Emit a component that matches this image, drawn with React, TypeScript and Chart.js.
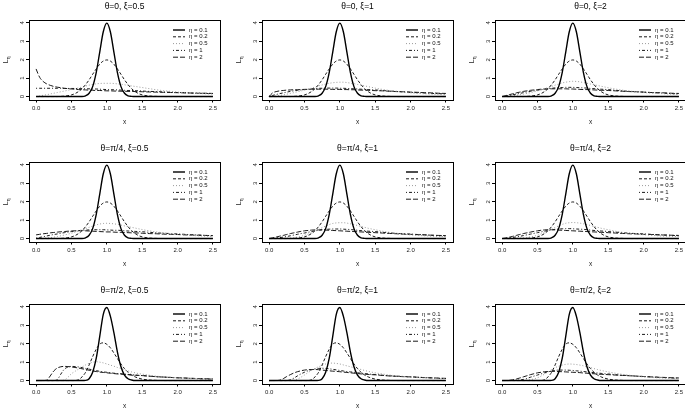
import React, { useEffect, useRef } from 'react';
import { Chart, registerables } from 'chart.js';

Chart.register(...registerables);

// ---------- data ----------
const X = [0, 0.05, 0.1, 0.15, 0.2, 0.25, 0.3, 0.35, 0.4, 0.45, 0.5, 0.55, 0.6, 0.65, 0.7, 0.75, 0.8, 0.85, 0.9, 0.95, 1.0, 1.05, 1.1, 1.15, 1.2, 1.25, 1.3, 1.35, 1.4, 1.45, 1.5, 1.6, 1.7, 1.8, 1.9, 2.0, 2.1, 2.2, 2.3, 2.4, 2.5];
const X_TICKS = [0, 0.5, 1, 1.5, 2, 2.5];
const Y_TICKS = [0, 1, 2, 3, 4];
const ETA_LABELS = ['η = 0.1', 'η = 0.2', 'η = 0.5', 'η = 1', 'η = 2'];
const TITLES = [
  'θ=0, ξ=0.5', 'θ=0, ξ=1', 'θ=0, ξ=2',
  'θ=π/4, ξ=0.5', 'θ=π/4, ξ=1', 'θ=π/4, ξ=2',
  'θ=π/2, ξ=0.5', 'θ=π/2, ξ=1', 'θ=π/2, ξ=2',
];

// η = 0.1 and η = 0.2 (rows θ=0 and θ=π/4)
const ETA01_A = [0, 0, 0, 0, 0, 0, 0, 0, 0, 0, 0, 0, 0, 0, 0.04, 0.18, 0.54, 1.3, 2.42, 3.52, 3.99, 3.52, 2.42, 1.3, 0.54, 0.18, 0.04, 0.01, 0, 0, 0, 0, 0, 0, 0, 0, 0, 0, 0, 0, 0];
const ETA02_A = [0, 0, 0, 0, 0, 0, 0, 0.01, 0.02, 0.05, 0.09, 0.16, 0.27, 0.43, 0.65, 0.91, 1.21, 1.5, 1.76, 1.93, 1.99, 1.93, 1.76, 1.5, 1.21, 0.91, 0.65, 0.43, 0.27, 0.16, 0.09, 0.03, 0.01, 0, 0, 0, 0, 0, 0, 0, 0];
// η = 0.1 and η = 0.2 (row θ=π/2)
const ETA01_B = [0, 0, 0, 0, 0, 0, 0, 0, 0, 0, 0, 0, 0, 0, 0.01, 0.1, 0.45, 1.2, 2.4, 3.6, 3.97, 3.5, 2.6, 1.55, 0.75, 0.3, 0.1, 0.03, 0, 0, 0, 0, 0, 0, 0, 0, 0, 0, 0, 0, 0];
const ETA02_B = [0, 0, 0, 0, 0, 0, 0, 0, 0, 0, 0, 0, 0.05, 0.2, 0.45, 0.85, 1.3, 1.7, 1.98, 2.05, 1.97, 1.78, 1.5, 1.2, 0.9, 0.65, 0.45, 0.3, 0.2, 0.13, 0.08, 0.03, 0.01, 0, 0, 0, 0, 0, 0, 0, 0];

// θ=0, ξ=0.5
const P1_E05 = [0, .03, .07, .1, .14, .18, .22, .26, .3, .34, .38, .42, .47, .52, .57, .62, .66, .69, .71, .72, .72, .72, .71, .69, .67, .64, .61, .58, .55, .52, .49, .43, .37, .32, .28, .24, .21, .19, .17, .15, .14];
const P1_E1 = [.45, .45, .45, .45, .45, .45, .45, .45, .44, .44, .44, .44, .43, .43, .42, .42, .41, .41, .4, .39, .38, .37, .37, .36, .35, .34, .33, .33, .32, .31, .3, .28, .27, .25, .23, .22, .21, .19, .18, .17, .16];
const P1_E2 = [1.5, 1.05, .82, .69, .61, .55, .51, .48, .45, .43, .41, .4, .38, .37, .36, .35, .34, .33, .33, .32, .31, .31, .3, .3, .29, .29, .28, .28, .27, .27, .26, .25, .24, .23, .22, .21, .2, .19, .18, .18, .17];
// θ=0, ξ=1
const P2_E05 = [0, .01, .03, .06, .09, .13, .17, .21, .26, .3, .35, .4, .46, .52, .58, .63, .68, .72, .75, .77, .78, .78, .76, .73, .7, .66, .62, .58, .54, .5, .46, .39, .33, .28, .24, .2, .17, .15, .13, .11, .1];
const P2_E1 = [0, .06, .11, .16, .2, .24, .28, .31, .34, .36, .38, .4, .42, .43, .45, .45, .46, .46, .46, .46, .45, .45, .44, .43, .42, .41, .4, .39, .38, .37, .36, .33, .3, .28, .25, .23, .21, .19, .17, .16, .14];
const P2_E2 = [0, .2, .27, .31, .33, .35, .36, .37, .37, .38, .39, .39, .4, .4, .4, .4, .4, .4, .39, .39, .39, .38, .38, .37, .37, .36, .35, .35, .34, .33, .32, .31, .29, .27, .26, .24, .23, .21, .2, .18, .17];
// θ=0, ξ=2
const P3_E05 = [0, 0, .02, .04, .07, .1, .13, .17, .21, .26, .31, .36, .42, .49, .55, .62, .68, .74, .78, .81, .83, .82, .8, .76, .72, .68, .64, .6, .56, .52, .48, .41, .35, .3, .26, .22, .19, .17, .15, .13, .11];
const P3_E1 = [0, .03, .06, .1, .13, .17, .21, .25, .28, .31, .34, .37, .4, .43, .45, .47, .48, .49, .5, .5, .5, .49, .48, .47, .46, .44, .43, .41, .4, .39, .38, .34, .31, .28, .26, .24, .22, .2, .18, .16, .15];
const P3_E2 = [0, .05, .1, .15, .2, .24, .28, .31, .34, .36, .38, .4, .41, .42, .42, .42, .42, .42, .42, .41, .41, .4, .39, .38, .38, .37, .36, .35, .34, .34, .33, .31, .29, .27, .26, .24, .22, .21, .2, .18, .17];
// θ=π/4, ξ=0.5
const P4_E05 = [0, 0, .01, .03, .05, .08, .11, .15, .19, .24, .29, .35, .41, .47, .54, .61, .68, .74, .79, .82, .83, .82, .8, .77, .73, .69, .65, .61, .57, .53, .49, .42, .36, .31, .27, .23, .2, .17, .15, .13, .12];
const P4_E1 = [.02, .06, .1, .14, .18, .22, .25, .29, .32, .35, .38, .41, .43, .45, .46, .47, .48, .48, .48, .48, .47, .46, .45, .45, .44, .42, .41, .4, .39, .38, .37, .34, .31, .29, .27, .25, .23, .21, .19, .17, .15];
const P4_E2 = [.2, .23, .26, .28, .31, .33, .35, .37, .38, .4, .41, .42, .43, .43, .42, .41, .4, .39, .38, .37, .36, .36, .35, .34, .34, .33, .32, .31, .31, .3, .29, .27, .26, .24, .23, .22, .2, .19, .18, .17, .16];
// θ=π/4, ξ=1
const P5_E05 = [0, 0, 0, 0, .01, .02, .03, .05, .08, .12, .18, .24, .32, .41, .5, .59, .68, .76, .82, .85, .86, .86, .84, .8, .76, .71, .66, .61, .56, .52, .48, .4, .34, .29, .24, .2, .17, .15, .13, .11, .1];
const P5_E1 = [0, .01, .03, .05, .08, .11, .15, .19, .23, .27, .3, .34, .38, .42, .45, .48, .5, .51, .52, .52, .52, .51, .5, .49, .47, .45, .43, .42, .4, .39, .38, .34, .31, .28, .26, .24, .22, .2, .18, .16, .14];
const P5_E2 = [0, .04, .08, .13, .17, .22, .27, .31, .35, .39, .42, .44, .46, .47, .47, .47, .46, .45, .44, .43, .42, .41, .4, .39, .38, .37, .36, .35, .34, .33, .32, .3, .28, .26, .24, .23, .21, .2, .18, .17, .16];
// θ=π/4, ξ=2
const P6_E05 = [0, 0, 0, 0, .01, .02, .04, .06, .09, .13, .18, .25, .33, .42, .51, .6, .69, .77, .83, .86, .87, .86, .84, .8, .76, .71, .66, .61, .56, .52, .48, .4, .34, .29, .25, .21, .18, .15, .13, .12, .1];
const P6_E1 = [0, .01, .03, .06, .09, .12, .16, .2, .24, .28, .32, .36, .4, .44, .47, .5, .52, .53, .54, .54, .53, .52, .51, .5, .48, .46, .44, .43, .41, .4, .38, .35, .32, .29, .27, .25, .23, .21, .19, .17, .15];
const P6_E2 = [0, .03, .07, .12, .17, .22, .27, .31, .35, .39, .42, .45, .47, .48, .48, .47, .46, .45, .44, .43, .42, .41, .4, .39, .38, .37, .36, .35, .34, .33, .32, .3, .28, .26, .25, .23, .22, .2, .19, .18, .17];
// θ=π/2, ξ=0.5
const P7_E05 = [0, 0, 0, 0, 0, 0, 0, 0, .03, .18, .37, .5, .62, .74, .85, .94, 1.0, 1.02, 1.0, .96, .9, .84, .78, .71, .65, .58, .52, .47, .42, .38, .35, .29, .24, .2, .17, .15, .13, .11, .1, .09, .08];
const P7_E1 = [0, 0, 0, 0, 0, 0, .05, .35, .62, .73, .77, .76, .74, .7, .66, .62, .58, .54, .5, .47, .45, .42, .4, .38, .37, .35, .33, .31, .3, .28, .27, .24, .21, .19, .17, .15, .13, .12, .1, .09, .08];
const P7_E2 = [0, 0, 0, .02, .25, .52, .68, .75, .77, .76, .74, .71, .68, .64, .6, .56, .52, .49, .46, .44, .42, .4, .38, .36, .35, .33, .32, .3, .29, .28, .27, .24, .21, .19, .17, .15, .14, .12, .11, .1, .09];
// θ=π/2, ξ=1
const P8_E05 = [0, 0, 0, 0, 0, 0, 0, .02, .08, .18, .3, .43, .55, .66, .75, .83, .9, .94, .95, .93, .9, .85, .8, .75, .7, .65, .6, .55, .5, .46, .42, .36, .3, .26, .22, .18, .16, .14, .12, .11, .1];
const P8_E1 = [0, 0, 0, 0, 0, 0, .04, .13, .25, .36, .45, .53, .59, .63, .66, .67, .66, .64, .61, .58, .55, .52, .49, .47, .45, .42, .4, .38, .36, .34, .33, .29, .26, .24, .22, .2, .18, .16, .14, .12, .11];
const P8_E2 = [0, 0, 0, .02, .1, .22, .32, .41, .48, .53, .57, .59, .6, .6, .59, .57, .55, .53, .51, .5, .48, .46, .44, .42, .4, .38, .36, .35, .33, .32, .31, .28, .25, .23, .21, .2, .18, .16, .15, .13, .12];
// θ=π/2, ξ=2
const P9_E05 = [0, 0, 0, 0, 0, 0, 0, .02, .05, .09, .15, .24, .35, .47, .6, .7, .78, .84, .88, .9, .89, .87, .84, .8, .75, .7, .65, .6, .55, .51, .47, .4, .34, .29, .24, .2, .17, .15, .13, .11, .1];
const P9_E1 = [0, 0, 0, 0, .01, .03, .06, .11, .18, .24, .3, .36, .42, .47, .52, .55, .57, .57, .57, .56, .55, .53, .51, .49, .47, .45, .43, .41, .39, .37, .36, .32, .29, .27, .24, .22, .2, .18, .16, .14, .13];
const P9_E2 = [0, 0, .01, .04, .08, .14, .2, .26, .32, .37, .42, .45, .48, .49, .5, .5, .49, .48, .47, .46, .45, .44, .43, .41, .4, .38, .37, .35, .34, .33, .32, .3, .28, .26, .24, .22, .2, .18, .17, .15, .14];

const PANEL_SERIES = [
  [ETA01_A, ETA02_A, P1_E05, P1_E1, P1_E2],
  [ETA01_A, ETA02_A, P2_E05, P2_E1, P2_E2],
  [ETA01_A, ETA02_A, P3_E05, P3_E1, P3_E2],
  [ETA01_A, ETA02_A, P4_E05, P4_E1, P4_E2],
  [ETA01_A, ETA02_A, P5_E05, P5_E1, P5_E2],
  [ETA01_A, ETA02_A, P6_E05, P6_E1, P6_E2],
  [ETA01_B, ETA02_B, P7_E05, P7_E1, P7_E2],
  [ETA01_B, ETA02_B, P8_E05, P8_E1, P8_E2],
  [ETA01_B, ETA02_B, P9_E05, P9_E1, P9_E2],
];

PANEL_SERIES.forEach((s, p) => s.forEach((a, i) => {
  if (a.length !== X.length) throw new Error(`panel ${p} series ${i} has ${a.length} values`);
}));

// ---------- styles ----------
const FONT = '"Liberation Sans", Arial, Helvetica, sans-serif';
const STYLES = [
  { color: '#000000', width: 1.4, dash: [] as number[] },
  { color: '#1a1a1a', width: 1, dash: [3, 2] },
  { color: '#9a9a9a', width: 1, dash: [1, 2] },
  { color: '#1a1a1a', width: 1, dash: [1, 2, 3, 2] },
  { color: '#1a1a1a', width: 1, dash: [5, 2] },
];
const PANEL_W = 233;
const PANEL_H = 142;

const decorPlugin = {
  id: 'rdecor',
  afterDatasetsDraw(chart: any, _args: any, opts: any) {
    const { ctx, chartArea: a, scales } = chart;
    ctx.save();
    ctx.setLineDash([]);
    ctx.strokeStyle = '#000';
    ctx.lineWidth = 1;
    ctx.strokeRect(Math.round(a.left) + 0.5, Math.round(a.top) + 0.5, Math.round(a.right - a.left), Math.round(a.bottom - a.top));

    const cx = (a.left + a.right) / 2;
    ctx.fillStyle = '#000';
    ctx.textAlign = 'center';
    ctx.textBaseline = 'middle';
    ctx.font = `8.5px ${FONT}`;
    ctx.fillText(opts.title, cx, 6.5);

    ctx.font = `6.5px ${FONT}`;
    ctx.fillStyle = '#222';
    ctx.fillText('x', cx, a.bottom + 22.5);

    // y tick labels (rotated, R style)
    ctx.font = `6px ${FONT}`;
    for (const v of Y_TICKS) {
      const y = scales.y.getPixelForValue(v);
      ctx.save();
      ctx.translate(a.left - 7, y);
      ctx.rotate(-Math.PI / 2);
      ctx.fillText(String(v), 0, 0);
      ctx.restore();
    }

    // y title L_eta
    ctx.save();
    ctx.translate(6, (a.top + a.bottom) / 2);
    ctx.rotate(-Math.PI / 2);
    ctx.textAlign = 'left';
    ctx.font = `7px ${FONT}`;
    const wL = ctx.measureText('L').width;
    ctx.fillText('L', -wL / 2 - 1.5, 0);
    ctx.font = `5px ${FONT}`;
    ctx.fillText('η', wL / 2 - 1.5, 2.2);
    ctx.restore();

    // legend
    ctx.font = `6px ${FONT}`;
    ctx.textAlign = 'left';
    chart.data.datasets.forEach((ds: any, i: number) => {
      const y = a.top + 10 + i * 6.8;
      const x0 = a.right - 47;
      ctx.save();
      ctx.strokeStyle = ds.borderColor;
      ctx.lineWidth = ds.borderWidth;
      ctx.setLineDash(ds.borderDash || []);
      ctx.beginPath();
      ctx.moveTo(x0, y);
      ctx.lineTo(x0 + 12, y);
      ctx.stroke();
      ctx.restore();
      ctx.fillStyle = '#111';
      ctx.fillText(ds.label, a.right - 31, y);
    });
    ctx.restore();
  },
};

function Panel({ idx }: { idx: number }) {
  const ref = useRef<HTMLCanvasElement | null>(null);
  useEffect(() => {
    const series = PANEL_SERIES[idx];
    const chart = new Chart(ref.current as HTMLCanvasElement, {
      type: 'line',
      data: {
        datasets: series.map((ys, i) => ({
          label: ETA_LABELS[i],
          data: ys.map((y, j) => ({ x: X[j], y })),
          borderColor: STYLES[i].color,
          borderWidth: STYLES[i].width,
          borderDash: STYLES[i].dash,
          pointRadius: 0,
          fill: false,
          cubicInterpolationMode: 'monotone',
        })),
      },
      options: {
        responsive: false,
        animation: false,
        devicePixelRatio: 1,
        layout: { padding: { left: 19, right: 13, top: 20, bottom: 26.5 } },
        plugins: {
          legend: { display: false },
          title: { display: false },
          tooltip: { enabled: false },
          rdecor: { title: TITLES[idx] },
        } as any,
        scales: {
          x: {
            type: 'linear',
            min: -0.1,
            max: 2.6,
            afterBuildTicks: (s: any) => { s.ticks = X_TICKS.map((v) => ({ value: v })); },
            afterFit: (s: any) => { s.height = 16; },
            ticks: {
              autoSkip: false,
              maxRotation: 0,
              padding: 2,
              color: '#222',
              font: { family: FONT, size: 6 },
              callback: (v: any) => Number(v).toFixed(1),
            },
            grid: { drawOnChartArea: false, drawTicks: true, tickLength: 3, color: '#000', lineWidth: 1 },
            border: { display: false },
          },
          y: {
            type: 'linear',
            min: -0.16,
            max: 4.16,
            afterBuildTicks: (s: any) => { s.ticks = Y_TICKS.map((v) => ({ value: v })); },
            afterFit: (s: any) => { s.width = 10; },
            ticks: { display: false },
            grid: { drawOnChartArea: false, drawTicks: true, tickLength: 3, color: '#000', lineWidth: 1 },
            border: { display: false },
          },
        },
      } as any,
      plugins: [decorPlugin],
    });
    return () => chart.destroy();
  }, [idx]);
  const row = Math.floor(idx / 3);
  const col = idx % 3;
  return (
    <canvas
      ref={ref}
      width={PANEL_W}
      height={PANEL_H}
      style={{ position: 'absolute', left: col * PANEL_W, top: row * PANEL_H, width: PANEL_W, height: PANEL_H }}
    />
  );
}

export default function App() {
  useEffect(() => {
    document.body.style.margin = '0';
  }, []);
  return (
    <div style={{ position: 'relative', width: 685, height: 410, overflow: 'hidden', background: '#fff' }}>
      {TITLES.map((_, i) => <Panel key={i} idx={i} />)}
    </div>
  );
}
